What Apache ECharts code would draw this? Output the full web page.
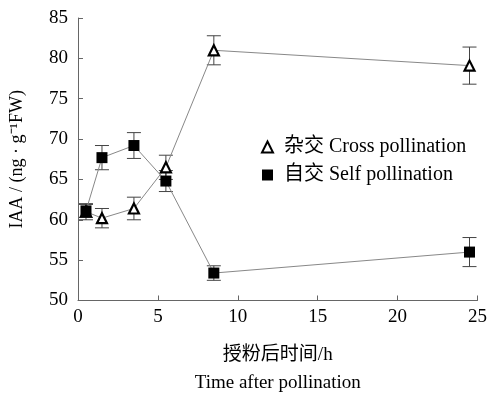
<!DOCTYPE html>
<html><head><meta charset="utf-8">
<script src="https://cdn.jsdelivr.net/npm/echarts@6/dist/echarts.min.js"></script>
<style>html,body{margin:0;padding:0;background:#fff}#c{width:490px;height:398px}</style>
</head><body><div id="c"></div>
<script>
var hours = [0.5, 1.5, 3.5, 5.5, 8.5, 24.5];
var crossVals = [61.0, 60.2, 61.4, 66.5, 81.0, 79.1];
var crossErr = [1.0, 1.2, 1.4, 1.5, 1.8, 2.3];
var selfVals = [61.1, 67.7, 69.2, 64.8, 53.4, 56.0];
var selfErr = [0.8, 1.5, 1.6, 1.3, 0.9, 1.8];
var xTicks = [0, 5, 10, 15, 20, 25];
var yTicks = [50, 55, 60, 65, 70, 75, 80, 85];
var crossName = '杂交 Cross pollination';
var selfName = '自交 Self pollination';

var FONT = '"Liberation Serif","Noto Sans CJK SC",serif';
function pairs(xs, ys){ return xs.map(function(x,i){return [x, ys[i]];}); }
function errData(xs, ys, es){ return xs.map(function(x,i){return [x, ys[i]-es[i], ys[i]+es[i]];}); }
function errRender(params, api){
  var x = api.value(0), lo = api.value(1), hi = api.value(2);
  var p1 = api.coord([x, lo]), p2 = api.coord([x, hi]);
  var w = 7;
  var st = {stroke:'#444', lineWidth:1};
  return {type:'group', children:[
    {type:'line', shape:{x1:p1[0],y1:p1[1],x2:p2[0],y2:p2[1]}, style:st},
    {type:'line', shape:{x1:p1[0]-w,y1:p1[1],x2:p1[0]+w,y2:p1[1]}, style:st},
    {type:'line', shape:{x1:p2[0]-w,y1:p2[1],x2:p2[0]+w,y2:p2[1]}, style:st}
  ]};
}
var chart = echarts.init(document.getElementById('c'));
chart.setOption({
  animation:false,
  backgroundColor:'#fff',
  grid:{left:77, right:8, top:18, bottom:94},
  legend:{
    orient:'vertical', left:256, top:132, itemGap:8, itemWidth:11, itemHeight:11,
    textStyle:{fontFamily:FONT, fontSize:20, color:'#000', padding:[0,0,0,6]},
    data:[{name:crossName, icon:'triangle'},{name:selfName, icon:'rect'}]
  },
  xAxis:{
    type:'value', min:0, max:25, interval:5,
    axisLine:{show:true, lineStyle:{color:'#666', width:1}},
    axisTick:{show:true, inside:true, length:5, lineStyle:{color:'#666'}},
    splitLine:{show:false},
    axisLabel:{fontFamily:FONT, fontSize:19, color:'#000', margin:7,
      formatter:function(v){return xTicks.indexOf(v)>=0? String(v):'';}},
    name:'{a|授粉后时间/h}\n{b|Time after pollination}',
    nameLocation:'middle', nameGap:40,
    nameTextStyle:{rich:{
      a:{fontFamily:FONT, fontSize:19, color:'#000', lineHeight:30},
      b:{fontFamily:FONT, fontSize:19, color:'#000', lineHeight:26}
    }}
  },
  yAxis:{
    type:'value', min:50, max:85, interval:5,
    axisLine:{show:true, lineStyle:{color:'#666', width:1}},
    axisTick:{show:true, inside:true, length:5, lineStyle:{color:'#666'}},
    splitLine:{show:false},
    axisLabel:{fontFamily:FONT, fontSize:19, color:'#000', margin:10,
      formatter:function(v){return yTicks.indexOf(v)>=0? String(v):'';}},
    name:'IAA / (ng · g⁻¹FW)', nameLocation:'middle', nameGap:52, nameRotate:90,
    nameTextStyle:{fontFamily:FONT, fontSize:18, color:'#000'}
  },
  series:[
    {type:'custom', name:'crossErr', renderItem:errRender, data:errData(hours, crossVals, crossErr), z:1, silent:true},
    {type:'custom', name:'selfErr', renderItem:errRender, data:errData(hours, selfVals, selfErr), z:1, silent:true},
    {type:'line', name:crossName, data:pairs(hours, crossVals), symbol:'triangle', symbolSize:10,
      lineStyle:{color:'#888', width:1}, itemStyle:{color:'#fff', borderColor:'#000', borderWidth:2.2}, z:3},
    {type:'line', name:selfName, data:pairs(hours, selfVals), symbol:'rect', symbolSize:11,
      lineStyle:{color:'#888', width:1}, itemStyle:{color:'#000', borderColor:'#000', borderWidth:0}, z:3}
  ]
});
</script></body></html>
